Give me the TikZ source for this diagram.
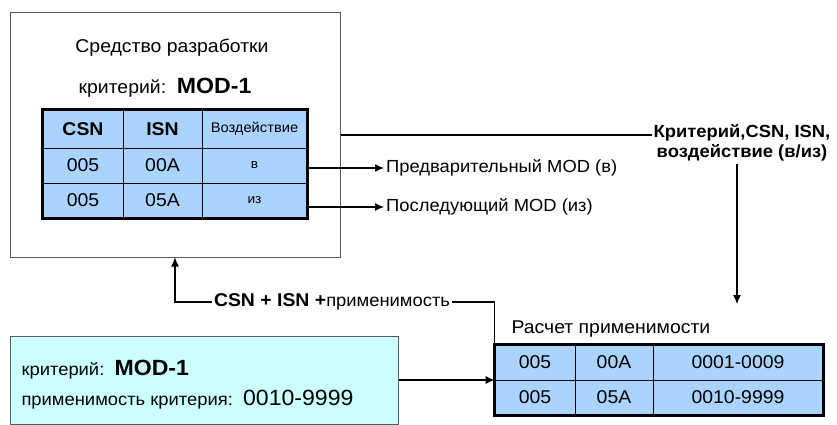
\documentclass[tikz,border=0pt]{standalone}
\usepackage{fontspec}
\setmainfont[FakeStretch=1.05]{Liberation Sans}
\usepackage{tikz}
\usetikzlibrary{arrows.meta}

\definecolor{tblue}{RGB}{170,212,255}
\definecolor{lcyan}{RGB}{204,255,255}

\begin{document}
\begin{tikzpicture}[x=1pt, y=-1pt,
  box/.style={rectangle, draw=gray!70!black, line width=1pt},
  cell/.style={rectangle, draw, fill=tblue, line width=0.8pt, inner sep=0pt,
               font=\fontsize{18.5}{21}\selectfont},
  lbl/.style={inner sep=2pt, font=\fontsize{17.5}{20}\selectfont},
  arr/.style={-{Latex[length=9pt,width=8pt]}, line width=1.1pt},
  frame/.style={line width=2.6pt}
]
\useasboundingbox (0,0) rectangle (837,425);

% development tool
\node[box, minimum width=330, minimum height=244] (tool) at (175,135) {};
\node[font=\fontsize{18.5}{21}\selectfont] (title) at (172,48) {Средство разработки};
\node[font=\fontsize{18.5}{21}\selectfont] (crit1) at (165,88) {критерий:\ \ {\fontsize{22}{24}\selectfont\bfseries MOD-1}};

\node[cell, minimum width=80, minimum height=38, font=\fontsize{18.5}{21}\selectfont\bfseries] (t11) at (83,129)    {CSN};
\node[cell, minimum width=79, minimum height=38, font=\fontsize{18.5}{21}\selectfont\bfseries] (t12) at (162.5,129) {ISN};
\node[cell, minimum width=105, minimum height=38, font=\fontsize{14}{16}\selectfont] (t13) at (254.5,129) {Воздействие};
\node[cell, minimum width=80, minimum height=35]  (t21) at (83,165.5)    {005};
\node[cell, minimum width=79, minimum height=35]  (t22) at (162.5,165.5) {00A};
\node[cell, minimum width=105, minimum height=35, font=\fontsize{13}{15}\selectfont] (t23) at (254.5,165.5) {в};
\node[cell, minimum width=80, minimum height=35]  (t31) at (83,200.5)    {005};
\node[cell, minimum width=79, minimum height=35]  (t32) at (162.5,200.5) {05A};
\node[cell, minimum width=105, minimum height=35, font=\fontsize{13}{15}\selectfont] (t33) at (254.5,200.5) {из};
\draw[frame] (t11.north west) rectangle (t33.south east);

\node[lbl, anchor=west] (pre)  at (384,168) {Предварительный MOD (в)};
\node[lbl, anchor=west] (post) at (384,207) {Последующий MOD (из)};
\draw[arr] (t23.east |- pre.west) -- (pre.west);
\draw[arr] (t33.east |- post.west) -- (post.west);

% output to the calculation
\node[lbl, align=center, font=\fontsize{17.5}{20}\selectfont\bfseries] (crit) at (742,143)
  {Критерий,CSN, ISN,\\воздействие (в/из)};
\draw[line width=1.1pt] (tool.east) -- (tool.east -| crit.west);
\coordinate (calctop) at (737,304);
\draw[arr] (crit.south -| calctop) -- (calctop);

% applicability calculation
\node[anchor=west, font=\fontsize{18.5}{21}\selectfont] (calc) at (508,329) {Расчет применимости};
\node[cell, minimum width=80, minimum height=35]  (b11) at (535,362.5) {005};
\node[cell, minimum width=78, minimum height=35]  (b12) at (614,362.5) {00A};
\node[cell, minimum width=170, minimum height=35] (b13) at (738,362.5) {0001-0009};
\node[cell, minimum width=80, minimum height=35]  (b21) at (535,397.5) {005};
\node[cell, minimum width=78, minimum height=35]  (b22) at (614,397.5) {05A};
\node[cell, minimum width=170, minimum height=35] (b23) at (738,397.5) {0010-9999};
\draw[frame] (b11.north west) rectangle (b23.south east);

% feedback
\node[lbl] (fb) at (332,302) {{\fontsize{18.5}{21}\selectfont\bfseries CSN + ISN +}{\fontsize{17.5}{20}\selectfont применимость}};
\draw[line width=1.1pt] (b11.north west) |- (fb.east);
\draw[arr] (fb.west) -| (tool.south);

% criterion applicability
\node[box, fill=lcyan, minimum width=388, minimum height=88] (mod) at (204,380) {};
\node[anchor=west, font=\fontsize{17.5}{20}\selectfont] (modname) at (18,370)
  {критерий:\ \ {\fontsize{22}{24}\selectfont\bfseries MOD-1}};
\node[anchor=west, font=\fontsize{17.5}{20}\selectfont] (modrange) at (18,400)
  {применимость критерия:\ \ {\fontsize{22}{24}\selectfont 0010-9999}};
\draw[arr] (mod.east) -- (mod.east -| b11.west);
\end{tikzpicture}
\end{document}
